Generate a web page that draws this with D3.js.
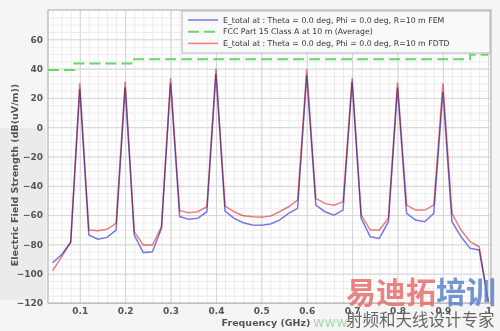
<!DOCTYPE html>
<html>
<head>
<meta charset="utf-8">
<script src="https://cdn.jsdelivr.net/npm/d3@7/dist/d3.min.js"></script>
<style>
body { margin: 0; background: #f5f5f5; }
svg { display: block; font-family: "DejaVu Sans", sans-serif; }
</style>
</head>
<body>
<div id="graph"></div>
<script>
// frequency samples (GHz)
let freq = [0.04, 0.06, 0.08, 0.10, 0.12, 0.14, 0.16, 0.18, 0.20, 0.22,
    0.24, 0.26, 0.28, 0.30, 0.32, 0.34, 0.36, 0.38, 0.40, 0.42,
    0.44, 0.46, 0.48, 0.50, 0.52, 0.54, 0.56, 0.58, 0.60, 0.62,
    0.64, 0.66, 0.68, 0.70, 0.72, 0.74, 0.76, 0.78, 0.80, 0.82,
    0.84, 0.86, 0.88, 0.90, 0.92, 0.94, 0.96, 0.98, 1.00];

// E field, FEM (blue)
let femValues = [-92.5, -87, -78.5, 26, -73.6, -76.5, -75.2, -70.2, 27, -73.6,
    -85.6, -85, -69, 30, -61, -62.9, -62.2, -57.7, 36.5, -57.2,
    -62.2, -65.2, -66.8, -67, -66.1, -63.4, -58.8, -55.4, 35.5, -53.2,
    -57.7, -60, -56.6, 31, -62.2, -74.8, -75.9, -64.5, 27, -58.8,
    -63.4, -64.5, -58.8, 24, -64.5, -74.8, -82.7, -83.8, -119];

// E field, FDTD (red)
let fdtdValues = [-98, -88.5, -78.5, 30, -70.2, -70.7, -69.7, -65.6, 31, -71.4,
    -80.4, -80.4, -68, 33.5, -57, -58.4, -57.7, -54.3, 40, -53.8,
    -57.7, -60.4, -61.1, -61.5, -60.7, -57.7, -54.3, -49.7, 39.5, -48.6,
    -52, -53.2, -50.9, 33.5, -60, -70.2, -70.2, -62.2, 30.5, -53.2,
    -56.6, -56.6, -53.2, 30, -58.8, -70.2, -78.2, -81.6, -119];

// FCC Part 15 class A limit (step)
let fccFreq = [0.03, 0.088, 0.216, 0.96, 1.0];
let fccLimit = [39, 43.5, 46.4, 49.5, 49.5];

let xTicks = [0.1, 0.2, 0.3, 0.4, 0.5, 0.6, 0.7, 0.8, 0.9, 1];
let yTicks = [-120, -100, -80, -60, -40, -20, 0, 20, 40, 60];

let seriesNames = [
    'E_total at : Theta = 0.0 deg, Phi = 0.0 deg, R=10 m FEM',
    'FCC Part 15 Class A at 10 m (Average)',
    'E_total at : Theta = 0.0 deg, Phi = 0.0 deg, R=10 m FDTD'
];

let width = 500;
let height = 331;
let plot = { left: 48, right: 491, top: 10, bottom: 303 };

let svg = d3.select('#graph')
    .append('svg')
    .attr('width', width)
    .attr('height', height);

svg.append('rect')
    .attr('width', width)
    .attr('height', height)
    .attr('fill', '#f5f5f5');

// greyish patch behind the y title
svg.append('rect')
    .attr('x', 0).attr('y', 128)
    .attr('width', 46).attr('height', 172)
    .attr('fill', '#ebebeb');

let xScale = d3.scaleLinear().domain([0.03, 1.006]).range([plot.left, plot.right]);
let yScale = d3.scaleLinear().domain([-120, 80]).range([plot.bottom, plot.top]);

svg.append('rect')
    .attr('x', plot.left)
    .attr('y', plot.top)
    .attr('width', plot.right - plot.left)
    .attr('height', plot.bottom - plot.top)
    .attr('fill', '#ffffff');

// minor grid
let minorX = d3.range(0.04, 1.006, 0.02);
let minorY = d3.range(-115, 80, 5);

svg.append('g')
    .attr('transform', 'translate(0,' + plot.bottom + ')')
    .call(d3.axisBottom(xScale).tickValues(minorX).tickSize(-(plot.bottom - plot.top)).tickFormat(''))
    .call(g => g.select('.domain').remove())
    .selectAll('line').attr('stroke', '#ececec');

svg.append('g')
    .attr('transform', 'translate(' + plot.left + ',0)')
    .call(d3.axisLeft(yScale).tickValues(minorY).tickSize(-(plot.right - plot.left)).tickFormat(''))
    .call(g => g.select('.domain').remove())
    .selectAll('line').attr('stroke', '#ececec');

// major grid + labels
let xg = svg.append('g')
    .attr('transform', 'translate(0,' + plot.bottom + ')')
    .call(d3.axisBottom(xScale).tickValues(xTicks).tickSize(-(plot.bottom - plot.top)).tickPadding(5).tickFormat(d => String(d)));
xg.select('.domain').remove();
xg.selectAll('line').attr('stroke', '#d6d6d6');
xg.selectAll('text')
    .attr('font-family', 'DejaVu Sans')
    .attr('font-size', '9px')
    .attr('font-weight', 'bold')
    .attr('fill', '#555');

let yg = svg.append('g')
    .attr('transform', 'translate(' + plot.left + ',0)')
    .call(d3.axisLeft(yScale).tickValues(yTicks).tickSize(-(plot.right - plot.left)).tickPadding(5));
yg.select('.domain').remove();
yg.selectAll('line').attr('stroke', '#d6d6d6');
yg.selectAll('text')
    .attr('font-family', 'DejaVu Sans')
    .attr('font-size', '9px')
    .attr('font-weight', 'bold')
    .attr('fill', '#555');

svg.append('rect')
    .attr('x', plot.left)
    .attr('y', plot.top)
    .attr('width', plot.right - plot.left)
    .attr('height', plot.bottom - plot.top)
    .attr('fill', 'none')
    .attr('stroke', '#a8a8a8');

// curves
let line = d3.line()
    .x(d => xScale(d[0]))
    .y(d => yScale(d[1]));

let femPts = freq.map((f, i) => [f, femValues[i]]);
let fdtdPts = freq.map((f, i) => [f, fdtdValues[i]]);
let fccPts = fccFreq.map((f, i) => [f, fccLimit[i]]);

let stepLine = d3.line()
    .x(d => xScale(d[0]))
    .y(d => yScale(d[1]))
    .curve(d3.curveStepAfter);

svg.append('path')
    .attr('d', stepLine(fccPts))
    .attr('fill', 'none')
    .attr('stroke', '#6ad66a')
    .attr('stroke-width', 2)
    .attr('stroke-dasharray', '11,5');

svg.append('path')
    .attr('d', line(femPts))
    .attr('fill', 'none')
    .attr('stroke', '#7878e0')
    .attr('stroke-width', 1.5);

svg.append('path')
    .attr('d', line(fdtdPts))
    .attr('fill', 'none')
    .attr('stroke', '#f08080')
    .attr('stroke-width', 1.5)
    .style('mix-blend-mode', 'multiply');

// legend
let legend = svg.append('g');
legend.append('rect')
    .attr('x', 182).attr('y', 11)
    .attr('width', 308).attr('height', 42)
    .attr('fill', '#f9f9f9')
    .attr('stroke', '#b4b4b4');

let legendColors = ['#7878e0', '#6ad66a', '#f08080'];
let legendDash = [null, '11,5', null];
seriesNames.forEach((name, i) => {
    let y = 20 + i * 11.7;
    legend.append('line')
        .attr('x1', 188).attr('x2', 218)
        .attr('y1', y).attr('y2', y)
        .attr('stroke', legendColors[i])
        .attr('stroke-width', i === 1 ? 2 : 1.5)
        .attr('stroke-dasharray', legendDash[i]);
    legend.append('text')
        .attr('x', 223)
        .attr('y', y)
        .attr('dy', '0.35em')
        .attr('font-size', '7.8px')
        .attr('fill', '#333')
        .text(name);
});

// axis titles
svg.append('text')
    .attr('x', 266)
    .attr('y', 326)
    .attr('text-anchor', 'middle')
    .attr('font-size', '9.5px')
    .attr('font-weight', 'bold')
    .attr('fill', '#555')
    .text('Frequency (GHz)');

svg.append('text')
    .attr('transform', 'translate(15,175) rotate(-90)')
    .attr('text-anchor', 'middle')
    .attr('dy', '0.35em')
    .attr('font-size', '9.5px')
    .attr('font-weight', 'bold')
    .attr('fill', '#555')
    .text('Electric Field Strength (dB(uV/m))');

// watermark
let wm = svg.append('g').attr('font-family', '"Noto Sans CJK SC"');
wm.append('text')
    .attr('x', 313).attr('y', 327)
    .attr('font-family', 'DejaVu Sans')
    .attr('font-size', '14px')
    .attr('fill', '#a9dba9')
    .text('www');
wm.append('text')
    .attr('x', 346).attr('y', 303)
    .attr('font-size', '30px')
    .attr('font-weight', 'bold')
    .attr('fill', '#e86d6d')
    .attr('fill-opacity', 0.85)
    .text('易迪拓');
wm.append('text')
    .attr('x', 436).attr('y', 303)
    .attr('font-size', '30px')
    .attr('font-weight', 'bold')
    .attr('fill', '#5b84c8')
    .attr('fill-opacity', 0.85)
    .text('培训');
wm.append('text')
    .attr('x', 346).attr('y', 326)
    .attr('font-size', '16.5px')
    .attr('fill', '#666')
    .text('射频和天线设计专家');
</script>
</body>
</html>
